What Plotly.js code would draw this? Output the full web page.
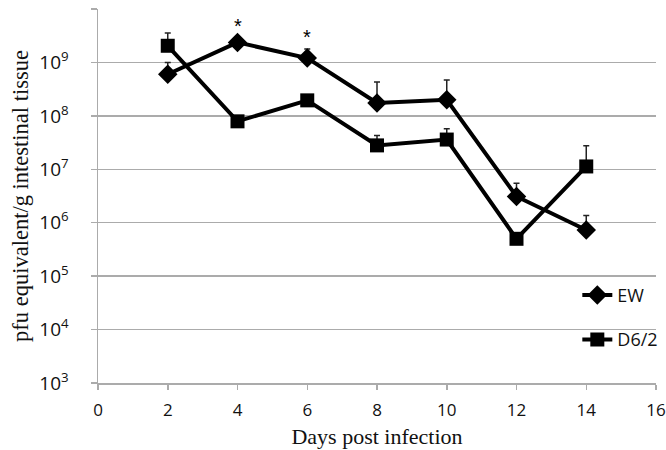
<!DOCTYPE html>
<html>
<head>
<meta charset="utf-8">
<script src="https://cdn.plot.ly/plotly-3.0.1.min.js"></script>
<style>html,body{margin:0;padding:0;background:#fff;}#chart{width:666px;height:450px;}</style>
</head>
<body>
<div id="chart"></div>
<script>
// Data
const days = [2, 4, 6, 8, 10, 12, 14];
const ewValues = [6.0e8, 2.37e9, 1.21e9, 1.74e8, 2.0e8, 3.1e6, 7.3e5];
const ewErrUp = [4.0e8, 0, 5.7e8, 2.54e8, 2.7e8, 2.4e6, 6.3e5];
const d62Values = [2.05e9, 7.9e7, 1.95e8, 2.8e7, 3.6e7, 5.0e5, 1.13e7];
const d62ErrUp = [1.5e9, 0, 0, 1.5e7, 2.15e7, 0, 1.64e7];
const seriesNames = ["EW", "D6/2"];
const starDays = [4, 6];
const starValues = [4.9e9, 3.0e9];
const yTickVals = [1e3, 1e4, 1e5, 1e6, 1e7, 1e8, 1e9, 1e10];
const yTickText = ["10<sup>3</sup>", "10<sup>4</sup>", "10<sup>5</sup>", "10<sup>6</sup>", "10<sup>7</sup>", "10<sup>8</sup>", "10<sup>9</sup>", "10<sup>10</sup>"];
const xTickVals = [0, 2, 4, 6, 8, 10, 12, 14, 16];

const gridCol = "#ababab";
const zeros = days.map(() => 0);

const traces = [
  {
    x: days, y: ewValues, name: seriesNames[0], type: "scatter", mode: "lines+markers",
    legendgroup: "a",
    line: {color: "#000", width: 4},
    marker: {symbol: "diamond", size: 15, color: "#000"},
    error_y: {type: "data", symmetric: false, array: ewErrUp, arrayminus: zeros, color: "#222", thickness: 1.5, width: 3}
  },
  {
    x: days, y: d62Values, name: seriesNames[1], type: "scatter", mode: "lines+markers",
    legendgroup: "b",
    line: {color: "#000", width: 4},
    marker: {symbol: "square", size: 14, color: "#000"},
    error_y: {type: "data", symmetric: false, array: d62ErrUp, arrayminus: zeros, color: "#222", thickness: 1.5, width: 3}
  }
];

const annotations = starDays.map((d, i) => ({
  x: d, y: Math.log10(starValues[i]), xref: "x", yref: "y", text: "*", showarrow: false,
  font: {family: "Liberation Sans, Arial, sans-serif", size: 20, color: "#000"}
}));

const layout = {
  width: 666, height: 450,
  margin: {l: 98, r: 10, t: 9, b: 67, autoexpand: false},
  paper_bgcolor: "#fff", plot_bgcolor: "#fff",
  showlegend: true,
  legend: {
    x: 0.859, y: 0.284, xanchor: "left", yanchor: "top",
    bgcolor: "rgba(0,0,0,0)", tracegroupgap: 18,
    font: {family: "Open Sans, sans-serif", size: 18, color: "#111"}
  },
  xaxis: {
    automargin: false, ticklabeloverflow: "allow",
    range: [0, 16], tickvals: xTickVals, ticks: "outside", ticklen: 5, tickcolor: gridCol, tickwidth: 1.5,
    showline: true, linecolor: gridCol, linewidth: 1.5, showgrid: false, zeroline: false,
    ticklabelstandoff: 6,
    tickfont: {family: "Open Sans, sans-serif", size: 17, color: "#111"},
    title: {text: "Days post infection", font: {family: "Liberation Serif, Times New Roman, serif", size: 22, color: "#111"}, standoff: 8}
  },
  yaxis: {
    automargin: false,
    type: "log", range: [3, 10], tickvals: yTickVals, ticktext: yTickText,
    ticks: "outside", ticklen: 6, tickcolor: gridCol, tickwidth: 1.5,
    showline: true, linecolor: gridCol, linewidth: 1.5,
    showgrid: true, gridcolor: gridCol, gridwidth: 1.5, zeroline: false,
    ticklabelstandoff: 18,
    tickfont: {family: "Open Sans, sans-serif", size: 19, color: "#111"},
    title: {text: "pfu equivalent/g intestinal tissue", font: {family: "Liberation Serif, Times New Roman, serif", size: 22.5, color: "#111"}, standoff: 4}
  },
  annotations: annotations
};

Plotly.newPlot("chart", traces, layout, {displayModeBar: false, staticPlot: true});
</script>
</body>
</html>
